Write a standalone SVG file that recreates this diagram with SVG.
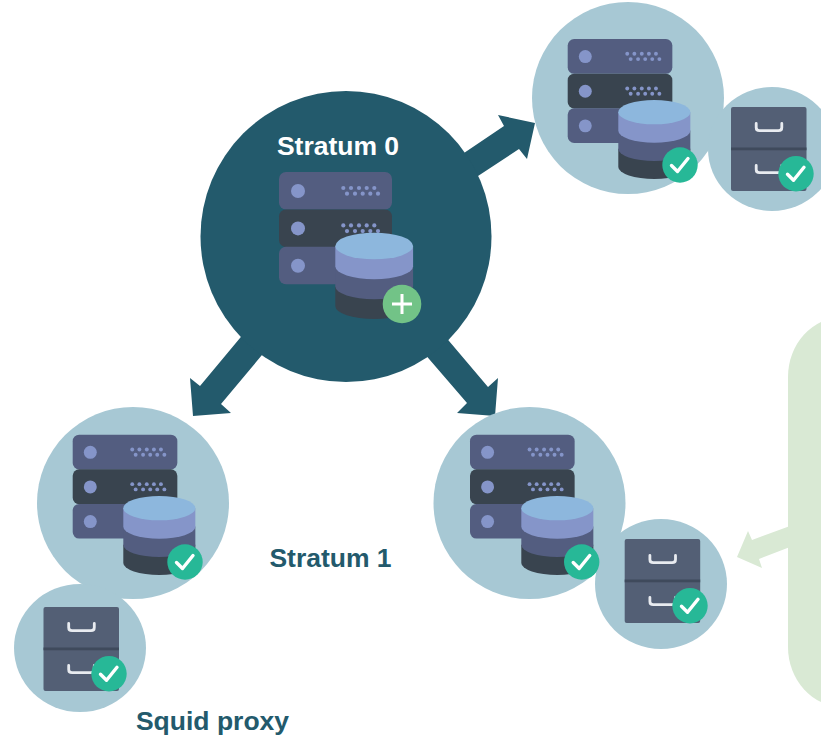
<svg xmlns="http://www.w3.org/2000/svg" xmlns:xlink="http://www.w3.org/1999/xlink" width="821" height="736" viewBox="0 0 821 736">
<style>
.disc{fill:#a7c8d4}
.arrow{fill:#235a6c}
.label{font-family:"Liberation Sans",Arial,sans-serif;font-weight:700;font-size:26.500px;fill:#235a6c}
.row1{fill:#535d80}
.row2{fill:#39444f}
.dot{fill:#8595c9}
.tick{fill:none;stroke:#fff;stroke-width:3.4;stroke-linecap:round;stroke-linejoin:round}
.handle{fill:none;stroke:#e8ebf0;stroke-width:2.800;stroke-linecap:round;stroke-linejoin:round}
</style>
<defs>
<g id="dots">
<circle class="dot" cx="19" cy="19" r="7"/>
<g class="dot"><circle cx="64.3" cy="16" r="2.100"/><circle cx="72" cy="16" r="2.100"/><circle cx="80" cy="16" r="2.100"/><circle cx="87.7" cy="16" r="2.100"/><circle cx="95.3" cy="16" r="2.100"/><circle cx="68" cy="21.7" r="2.100"/><circle cx="76" cy="21.7" r="2.100"/><circle cx="83.7" cy="21.7" r="2.100"/><circle cx="91.3" cy="21.7" r="2.100"/><circle cx="99" cy="21.7" r="2.100"/></g>
</g>
<g id="stack">
<rect class="row1" x="0" y="0" width="113" height="37.6" rx="7"/>
<rect class="row2" x="0" y="37.4" width="113" height="37.6" rx="7"/>
<rect class="row1" x="0" y="74.8" width="113" height="37.4" rx="7"/>
<use xlink:href="#dots" href="#dots"/>
<use xlink:href="#dots" href="#dots" y="37.4"/>
<use xlink:href="#dots" href="#dots" y="74.8"/>
</g>
<g id="cyl">
<path fill="#39444f" d="M0 53.3V73.300A38.9 13 0 0 0 77.8 73.300V53.3Z"/>
<path fill="#535d80" d="M0 33.3V53.600A38.9 13 0 0 0 77.8 53.600V33.3Z"/>
<path fill="#8595c9" d="M0 13.3V33.600A38.9 13 0 0 0 77.8 33.600V13.3Z"/>
<ellipse fill="#8db7dd" cx="38.9" cy="13.3" rx="38.9" ry="13.3"/>
</g>
<g id="check">
<circle fill="#27b897" r="17.7"/>
<path class="tick" d="M-8.5 0.5L-2.5 6.5L8 -6.5"/>
</g>
<g id="cabinet">
<rect fill="#535f75" width="75.5" height="84" rx="2"/>
<rect fill="#3f4a5c" y="40.5" width="75.5" height="2.8"/>
<path class="handle" d="M25.2 16.5V20.5Q25.2 23.7 28.5 23.7H47.5Q50.8 23.7 50.8 20.5V16.5"/>
<path class="handle" d="M25.2 58.5V62.5Q25.2 65.7 28.5 65.7H47.5Q50.8 65.7 50.8 62.5V58.5"/>
</g>
</defs>

<g id="repo-panel"><rect x="788" y="317" width="110" height="390" rx="60" fill="#d9e9d4"/></g>

<g id="connectors">
<polygon class="arrow" points="250,326 200,386 190,378 193,416 231,413 221,404 272,343"/>
<polygon class="arrow" points="438,328 488,387 498,378 495,416 457,413 467,403 417,345"/>
<polygon class="arrow" points="464,153 504,126 498,115 535,123 527,159 519,149 478,176 470,190 450,165"/>
<polygon fill="#d9e9d4" points="790,526 752,540 748,531 737,557 762,568 759,559 790,547"/>
</g>

<g id="stratum0">
<circle cx="346" cy="236.5" r="145.5" fill="#235a6c"/>
<text x="338" y="154.500" text-anchor="middle" class="label" style="fill:#fff">Stratum 0</text>
<use xlink:href="#stack" href="#stack" x="279" y="172"/>
<use xlink:href="#cyl" href="#cyl" x="335.300" y="232.700"/>
<circle cx="402" cy="304" r="19.300" fill="#72c387"/>
<path d="M402 294V314M392 304H412" fill="none" stroke="#fff" stroke-width="3"/>
</g>

<g id="stratum1-top">
<circle class="disc" cx="628" cy="98" r="96"/>
<use xlink:href="#stack" href="#stack" transform="translate(567.700 39) scale(.926)"/>
<use xlink:href="#cyl" href="#cyl" transform="translate(618.300 100) scale(.926 .915)"/>
<use xlink:href="#check" href="#check" x="680" y="165"/>
</g>
<g id="proxy-top">
<ellipse class="disc" cx="772" cy="149" rx="64" ry="62"/>
<use xlink:href="#cabinet" href="#cabinet" x="731" y="107"/>
<use xlink:href="#check" href="#check" x="796" y="173.700"/>
</g>

<g id="stratum1-left">
<circle class="disc" cx="133" cy="503" r="96"/>
<use xlink:href="#stack" href="#stack" transform="translate(72.700 434.700) scale(.926)"/>
<use xlink:href="#cyl" href="#cyl" transform="translate(123.300 496) scale(.926 .915)"/>
<use xlink:href="#check" href="#check" x="185" y="562"/>
</g>
<g id="proxy-left">
<ellipse class="disc" cx="80" cy="648" rx="66" ry="64"/>
<use xlink:href="#cabinet" href="#cabinet" x="43.500" y="607"/>
<use xlink:href="#check" href="#check" x="109" y="673.700"/>
</g>

<g id="stratum1-mid">
<circle class="disc" cx="529.500" cy="503" r="96"/>
<use xlink:href="#stack" href="#stack" transform="translate(470 434.700) scale(.926)"/>
<use xlink:href="#cyl" href="#cyl" transform="translate(521.300 496) scale(.926 .915)"/>
</g>
<g id="proxy-mid">
<ellipse class="disc" cx="661" cy="584" rx="66" ry="65"/>
<use xlink:href="#cabinet" href="#cabinet" x="624.700" y="539"/>
<use xlink:href="#check" href="#check" x="690" y="605.700"/>
</g>
<use id="stratum1-mid-check" xlink:href="#check" href="#check" x="581.700" y="562"/>

<g id="labels">
<text x="330.500" y="566.500" text-anchor="middle" class="label">Stratum 1</text>
<text x="212.500" y="730" text-anchor="middle" class="label">Squid proxy</text>
</g>
</svg>
